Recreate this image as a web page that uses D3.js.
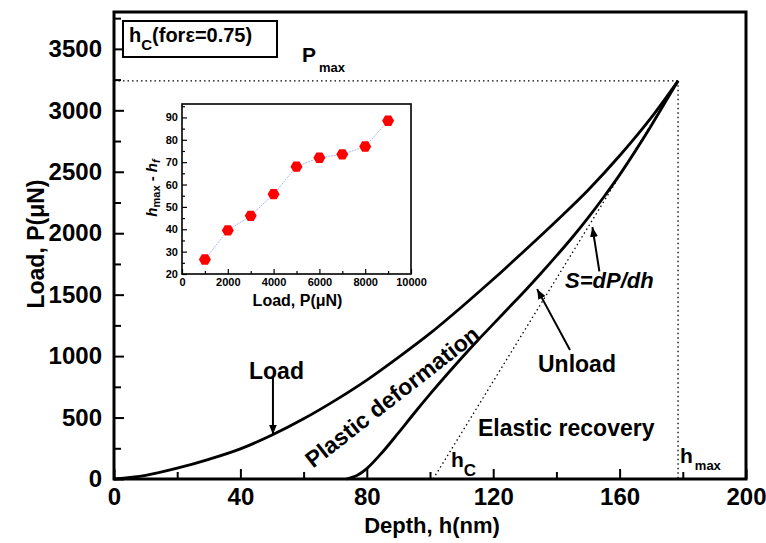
<!DOCTYPE html>
<html>
<head>
<meta charset="utf-8">
<script src="https://cdn.jsdelivr.net/npm/d3@7"></script>
<style>
body { margin: 0; background: #fff; }
svg text { font-family: "Liberation Sans", Arial, sans-serif; font-weight: bold; fill: #000; }
</style>
</head>
<body>
<div id="chart"></div>
<script>
// ****** main curve: loading branch (depth nm / load uN) ******
var loadDepth = [0, 10, 20, 30, 40, 50, 60, 70, 80, 90, 100, 110, 120, 130, 140, 150, 160, 170, 178.5];
var loadForce = [0, 30, 88, 160, 245, 358, 490, 640, 805, 990, 1185, 1400, 1625, 1860, 2100, 2350, 2630, 2940, 3240];

// ****** unloading branch ******
var unloadDepth = [73.5, 77, 80, 85, 90, 95, 100, 105, 110, 115, 120, 125, 130, 135, 140, 145, 150, 155, 160, 165, 170, 175, 178.5];
var unloadForce = [0, 30, 85, 220, 375, 535, 690, 840, 985, 1125, 1260, 1395, 1530, 1670, 1815, 1965, 2125, 2295, 2475, 2670, 2875, 3090, 3240];

var hMax = 178.5, pMax = 3240, hC = 101;

// ****** inset: hmax - hf vs load ******
var insetLoad = [1000, 2000, 3000, 4000, 5000, 6000, 7000, 8000, 9000];
var insetDiff = [26.5, 39.5, 46, 55.7, 68, 72, 73.5, 77, 88.5];

var xTicks = [0, 40, 80, 120, 160, 200];
var xMinor = [20, 60, 100, 140, 180];
var yTicks = [0, 500, 1000, 1500, 2000, 2500, 3000, 3500];
var yMinor = [250, 750, 1250, 1750, 2250, 2750, 3250, 3750];
var insetXTicks = [0, 2000, 4000, 6000, 8000, 10000];
var insetXMinor = [1000, 3000, 5000, 7000, 9000];
var insetYTicks = [20, 30, 40, 50, 60, 70, 80, 90];
var insetYMinor = [25, 35, 45, 55, 65, 75, 85, 95];

var width = 766,
    height = 543;

var svg = d3.select("#chart")
    .append("svg")
    .attr("width", width)
    .attr("height", height);

var x = d3.scaleLinear().domain([0, 200]).range([114, 746]);
var y = d3.scaleLinear().domain([0, 3800]).range([479, 12]);

svg.append("defs").append("marker")
    .attr("id", "arrow")
    .attr("viewBox", "0 0 10 10")
    .attr("refX", 10).attr("refY", 5)
    .attr("markerWidth", 10).attr("markerHeight", 10)
    .attr("markerUnits", "userSpaceOnUse")
    .attr("orient", "auto")
    .append("path")
    .attr("d", "M0,1 L10,5 L0,9 Z")
    .attr("fill", "#000");

// ******* axes (ticks inward) *******
function styleAxis(g, size) {
    g.select(".domain").remove();
    g.selectAll("line").attr("stroke", "#000").attr("stroke-width", 2);
    g.selectAll("text").style("font-size", size + "px");
}

svg.append("g")
    .attr("transform", "translate(0," + y(0) + ")")
    .call(d3.axisBottom(x).tickValues(xTicks).tickSize(-10).tickPadding(9).tickFormat(d3.format("d")))
    .call(styleAxis, 24);
svg.append("g")
    .attr("transform", "translate(0," + y(0) + ")")
    .call(d3.axisBottom(x).tickValues(xMinor).tickSize(-7).tickFormat(""))
    .call(styleAxis, 24);
svg.append("g")
    .attr("transform", "translate(" + x(0) + ",0)")
    .call(d3.axisLeft(y).tickValues(yTicks).tickSize(-10).tickPadding(12).tickFormat(d3.format("d")))
    .call(styleAxis, 24);
svg.append("g")
    .attr("transform", "translate(" + x(0) + ",0)")
    .call(d3.axisLeft(y).tickValues(yMinor.filter(function(d){ return d < 3800; })).tickSize(-7).tickFormat(""))
    .call(styleAxis, 24);

svg.append("rect")
    .attr("x", x(0)).attr("y", y(3800))
    .attr("width", x(200) - x(0)).attr("height", y(0) - y(3800))
    .attr("fill", "none").attr("stroke", "#000").attr("stroke-width", 3);

svg.append("text")
    .attr("x", (x(0) + x(200)) / 2 + 2).attr("y", 533)
    .attr("text-anchor", "middle")
    .style("font-size", "22px")
    .text("Depth, h(nm)");
svg.append("text")
    .attr("transform", "translate(44,244) rotate(-90)")
    .attr("text-anchor", "middle")
    .style("font-size", "23px")
    .text("Load, P(\u03bcN)");

// ******* dotted guides *******
var dotted = svg.append("g")
    .attr("fill", "none").attr("stroke", "#000")
    .attr("stroke-width", 1.3).attr("stroke-dasharray", "1.5,3");
dotted.append("line")
    .attr("x1", x(0)).attr("x2", x(hMax)).attr("y1", y(pMax)).attr("y2", y(pMax));
dotted.append("line")
    .attr("x1", x(hMax)).attr("x2", x(hMax)).attr("y1", y(pMax)).attr("y2", y(0));
dotted.append("line")
    .attr("x1", x(hC)).attr("x2", x(hMax)).attr("y1", y(0)).attr("y2", y(pMax));

// ******* load / unload curves *******
var line = d3.line()
    .x(function(d) { return x(d[0]); })
    .y(function(d) { return y(d[1]); })
    .curve(d3.curveMonotoneX);

svg.append("path")
    .attr("d", line(loadDepth.map(function(d, i) { return [d, loadForce[i]]; })))
    .attr("fill", "none").attr("stroke", "#000").attr("stroke-width", 2.8);
svg.append("path")
    .attr("d", line(unloadDepth.map(function(d, i) { return [d, unloadForce[i]]; })))
    .attr("fill", "none").attr("stroke", "#000").attr("stroke-width", 2.8);

// ******* annotations *******
function arrow(x1, y1, x2, y2) {
    svg.append("line")
        .attr("x1", x(x1)).attr("y1", y(y1)).attr("x2", x(x2)).attr("y2", y(y2))
        .attr("stroke", "#000").attr("stroke-width", 2)
        .attr("marker-end", "url(#arrow)");
}
arrow(50.3, 830, 50.3, 362);
arrow(144.3, 1050, 133.9, 1545);
arrow(153.6, 1690, 151.4, 2050);

svg.append("text").attr("x", 249).attr("y", 379).style("font-size", "23px").text("Load");
svg.append("text").attr("x", 538).attr("y", 372).style("font-size", "23px").text("Unload");
svg.append("text").attr("x", 565).attr("y", 288).style("font-size", "22px")
    .style("font-style", "italic").text("S=dP/dh");
svg.append("text").attr("x", 478).attr("y", 436).style("font-size", "23px").text("Elastic recovery");
svg.append("text")
    .attr("transform", "translate(397,403) rotate(-38)")
    .attr("text-anchor", "middle")
    .style("font-size", "23px")
    .text("Plastic deformation");

var hc = svg.append("text").attr("x", 451).attr("y", 467).style("font-size", "21px");
hc.append("tspan").text("h");
hc.append("tspan").attr("dy", 9).style("font-size", "17px").text("C");

var hm = svg.append("text").attr("x", 680).attr("y", 463).style("font-size", "21px");
hm.append("tspan").text("h");
hm.append("tspan").attr("dy", 7).attr("dx", 2).style("font-size", "13px").text("max");

var pm = svg.append("text").attr("x", 302).attr("y", 62).style("font-size", "21px");
pm.append("tspan").text("P");
pm.append("tspan").attr("dy", 10).attr("dx", 3).style("font-size", "13px").text("max");

svg.append("rect")
    .attr("x", 123).attr("y", 21).attr("width", 154).attr("height", 36)
    .attr("fill", "#fff").attr("stroke", "#000").attr("stroke-width", 2);
var box = svg.append("text").attr("x", 129).attr("y", 42).style("font-size", "20px");
box.append("tspan").text("h");
box.append("tspan").attr("dy", 8).style("font-size", "15px").text("C");
box.append("tspan").attr("dy", -8).text("(for\u03b5=0.75)");

// ******* inset *******
var ix = d3.scaleLinear().domain([0, 10000]).range([182, 411]);
var iy = d3.scaleLinear().domain([20, 96]).range([274, 104]);
var inset = svg.append("g");

inset.append("rect")
    .attr("x", ix(0)).attr("y", iy(96))
    .attr("width", ix(10000) - ix(0)).attr("height", iy(20) - iy(96))
    .attr("fill", "#fff");

function styleInset(g) {
    g.select(".domain").remove();
    g.selectAll("line").attr("stroke", "#000").attr("stroke-width", 1.2);
    g.selectAll("text").style("font-size", "11px");
}
inset.append("g")
    .attr("transform", "translate(0," + iy(20) + ")")
    .call(d3.axisBottom(ix).tickValues(insetXTicks).tickSize(-5).tickPadding(4).tickFormat(d3.format("d")))
    .call(styleInset);
inset.append("g")
    .attr("transform", "translate(0," + iy(20) + ")")
    .call(d3.axisBottom(ix).tickValues(insetXMinor).tickSize(-3).tickFormat(""))
    .call(styleInset);
inset.append("g")
    .attr("transform", "translate(" + ix(0) + ",0)")
    .call(d3.axisLeft(iy).tickValues(insetYTicks).tickSize(-5).tickPadding(4).tickFormat(d3.format("d")))
    .call(styleInset);
inset.append("g")
    .attr("transform", "translate(" + ix(0) + ",0)")
    .call(d3.axisLeft(iy).tickValues(insetYMinor).tickSize(-3).tickFormat(""))
    .call(styleInset);

inset.append("rect")
    .attr("x", ix(0)).attr("y", iy(96))
    .attr("width", ix(10000) - ix(0)).attr("height", iy(20) - iy(96))
    .attr("fill", "none").attr("stroke", "#000").attr("stroke-width", 1.6);

var insetLine = d3.line()
    .x(function(d, i) { return ix(d); })
    .y(function(d, i) { return iy(insetDiff[i]); });
inset.append("path")
    .attr("d", insetLine(insetLoad))
    .attr("fill", "none").attr("stroke", "#aab4ff").attr("stroke-width", 1)
    .attr("stroke-dasharray", "2,1");

function hexagon(r) {
    var pts = d3.range(6).map(function(i) {
        var a = Math.PI / 3 * i;
        return [r * Math.cos(a), r * Math.sin(a)];
    });
    return "M" + pts.join("L") + "Z";
}
inset.selectAll("path.pt")
    .data(insetLoad)
    .enter().append("path")
    .attr("class", "pt")
    .attr("d", hexagon(6))
    .attr("transform", function(d, i) { return "translate(" + ix(d) + "," + iy(insetDiff[i]) + ")"; })
    .attr("fill", "#ff0000");

inset.append("text")
    .attr("x", (ix(0) + ix(10000)) / 2 + 1).attr("y", 306)
    .attr("text-anchor", "middle")
    .style("font-size", "16px")
    .text("Load, P(\u03bcN)");

var ylab = inset.append("text")
    .attr("transform", "translate(157,188) rotate(-90)")
    .attr("text-anchor", "middle")
    .style("font-size", "15px");
ylab.append("tspan").style("font-style", "italic").text("h");
ylab.append("tspan").attr("dy", 3).style("font-size", "11px").text("max");
ylab.append("tspan").attr("dy", -3).text(" - ");
ylab.append("tspan").style("font-style", "italic").text("h");
ylab.append("tspan").attr("dy", 3).style("font-size", "11px").style("font-style", "italic").text("f");
</script>
</body>
</html>
